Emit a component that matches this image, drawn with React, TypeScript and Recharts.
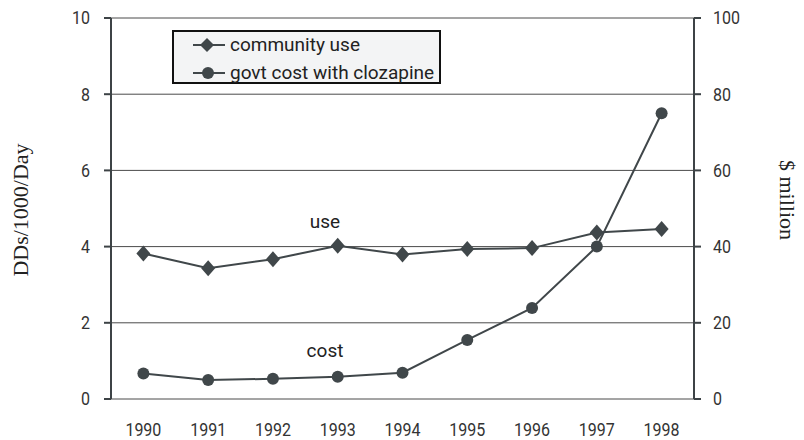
import React from 'react';
import {
  ComposedChart, Line, XAxis, YAxis, CartesianGrid, Legend,
} from 'recharts';

const years = ['1990', '1991', '1992', '1993', '1994', '1995', '1996', '1997', '1998'];
const communityUse = [3.82, 3.43, 3.67, 4.02, 3.79, 3.94, 3.96, 4.37, 4.46];
const govtCost = [6.7, 5.0, 5.3, 5.85, 6.9, 15.5, 23.9, 40.0, 75.0];
const leftTicks = [0, 2, 4, 6, 8, 10];
const rightTicks = [0, 20, 40, 60, 80, 100];
const boundaryTicks = [0, 1, 2, 3, 4, 5, 6, 7, 8, 9];

const data = years.map((y, i) => ({ year: y, use: communityUse[i], cost: govtCost[i] }));

const INK = '#40474a';
const AXIS = '#3d4346';
const SERIF = { fontFamily: '"Liberation Serif", "Times New Roman", serif', fontSize: 22, fill: '#222' };
const SANS = { fontFamily: 'Roboto, sans-serif', fontSize: 19, fill: '#222' };

// condensed-looking tick label
const Tick = (p: any) => {
  const { x, y, payload, textAnchor } = p;
  const s = String(payload.value);
  return (
    <text
      x={x} y={y} dy="0.36em" textAnchor={textAnchor}
      textLength={s.length * 9} lengthAdjust="spacingAndGlyphs"
      style={{ fontFamily: 'Roboto, sans-serif', fontSize: 18, fill: '#333' }}
    >
      {s}
    </text>
  );
};

const Diamond = (p: any) => {
  const { cx, cy } = p;
  if (cx == null || cy == null) return null;
  return <path d={`M${cx},${cy - 8} L${cx + 7},${cy} L${cx},${cy + 8} L${cx - 7},${cy} Z`} fill={INK} />;
};

const Circle = (p: any) => {
  const { cx, cy } = p;
  if (cx == null || cy == null) return null;
  return <circle cx={cx} cy={cy} r={6} fill={INK} />;
};

const LegendBox = () => (
  <div
    style={{
      width: 265, height: 50, border: '2px solid #111', background: '#f3f4f5',
      fontFamily: 'Roboto, sans-serif', fontSize: 19, color: '#222', boxSizing: 'content-box',
    }}
  >
    {[
      { label: 'community use', shape: 'diamond' },
      { label: 'govt cost with clozapine', shape: 'circle' },
    ].map((it, i) => (
      <div key={i} style={{ display: 'flex', alignItems: 'center', height: 26, paddingLeft: 17, marginTop: i === 0 ? 0 : 2 }}>
        <svg width={36} height={20} style={{ marginRight: 3, flex: 'none' }}>
          <line x1={2} y1={10} x2={34} y2={10} stroke={INK} strokeWidth={2} />
          {it.shape === 'diamond'
            ? <path d="M16,3 L23,10 L16,17 L9,10 Z" fill={INK} />
            : <circle cx={17} cy={10} r={6} fill={INK} />}
        </svg>
        <span style={{ lineHeight: '26px', whiteSpace: 'nowrap' }}>{it.label}</span>
      </div>
    ))}
  </div>
);

export default function App() {
  return (
    <div style={{ position: 'absolute', left: 0, top: 0, width: 804, height: 440, background: '#fff' }}>
      <ComposedChart width={804} height={440} data={data} margin={{ top: 18, right: 0, bottom: 0, left: 0 }}>
        <CartesianGrid horizontal vertical={false} stroke="#4a4a4a" strokeWidth={1} yAxisId="left" />
        <XAxis
          xAxisId="ticks" type="number" domain={[0, 9]} ticks={boundaryTicks} tick={false}
          tickSize={6} height={0} stroke={AXIS} strokeWidth={2}
          tickLine={{ stroke: AXIS, strokeWidth: 2 }} allowDataOverflow
        />
        <XAxis
          xAxisId="cat" dataKey="year" scale="band" height={41} axisLine={false} tickLine={false}
          tickSize={0} tickMargin={31} tick={<Tick />} interval={0}
        />
        <YAxis
          yAxisId="left" domain={[0, 10]} ticks={leftTicks} width={111} tickSize={7} tickMargin={14}
          stroke={AXIS} strokeWidth={2} tick={<Tick />} tickLine={{ stroke: AXIS, strokeWidth: 2 }}
        />
        <YAxis
          yAxisId="right" orientation="right" domain={[0, 100]} ticks={rightTicks} width={110}
          tickSize={7} tickMargin={12} stroke={AXIS} strokeWidth={2} tick={<Tick />}
          tickLine={{ stroke: AXIS, strokeWidth: 2 }}
        />
        <Legend
          layout="vertical" align="center" verticalAlign="middle"
          wrapperStyle={{ left: 172, top: 30, width: 269, height: 54 }}
          content={() => <LegendBox />}
        />
        <Line
          xAxisId="cat" yAxisId="left" dataKey="use" stroke={INK} strokeWidth={2}
          dot={<Diamond />} activeDot={false} isAnimationActive={false}
        />
        <Line
          xAxisId="cat" yAxisId="right" dataKey="cost" stroke={INK} strokeWidth={2}
          dot={<Circle />} activeDot={false} isAnimationActive={false}
        />
        <text x={20} y={210} transform="rotate(-90 20 210)" textAnchor="middle" dominantBaseline="central" style={SERIF}>DDs/1000/Day</text>
        <text x={787} y={200} transform="rotate(90 787 200)" textAnchor="middle" dominantBaseline="central" style={SERIF}>$ million</text>
        <text x={325} y={228} textAnchor="middle" style={SANS}>use</text>
        <text x={325} y={357} textAnchor="middle" style={SANS}>cost</text>
      </ComposedChart>
    </div>
  );
}
